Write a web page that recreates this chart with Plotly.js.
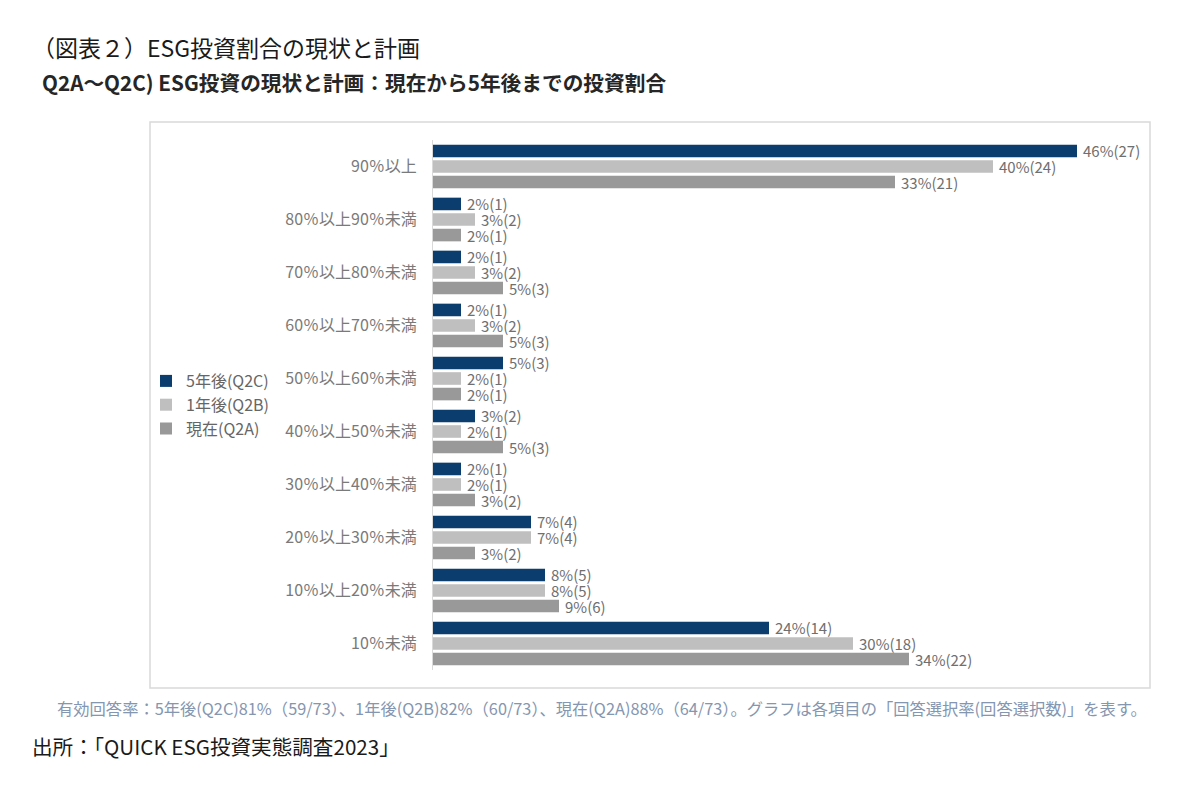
<!DOCTYPE html>
<html>
<head>
<meta charset="utf-8">
<script src="https://cdn.plot.ly/plotly-3.0.1.min.js"></script>
<style>html,body{margin:0;padding:0;background:#fff;}#chart{width:1199px;height:791px;}</style>
</head>
<body>
<div id="chart"></div>
<script>
const categories = ["90％以上","80％以上90％未満","70％以上80％未満","60％以上70％未満","50％以上60％未満","40％以上50％未満","30％以上40％未満","20％以上30％未満","10％以上20％未満","10％未満"];
const seriesNames = ["5年後(Q2C)","1年後(Q2B)","現在(Q2A)"];
const pct5y = [46,2,2,2,5,3,2,7,8,24];
const cnt5y = [27,1,1,1,3,2,1,4,5,14];
const pct1y = [40,3,3,3,2,2,2,7,8,30];
const cnt1y = [24,2,2,2,1,1,1,4,5,18];
const pctNow = [33,2,5,5,2,5,3,3,9,34];
const cntNow = [21,1,3,3,1,3,2,2,6,22];
const colors = ["#0b3d6e","#bfbfbf","#999999"];

const font = "'Noto Sans CJK JP', 'Noto Sans', sans-serif";
const pctSets = [pct5y, pct1y, pctNow];
const cntSets = [cnt5y, cnt1y, cntNow];

const traces = seriesNames.map((name, i) => ({
  type: 'bar',
  orientation: 'h',
  name: name,
  y: categories,
  x: pctSets[i],
  text: pctSets[i].map((p, k) => '\u2009' + p + '%(' + cntSets[i][k] + ')'),
  textposition: 'outside',
  constraintext: 'none',
  cliponaxis: false,
  textfont: {family: font, size: 15, color: '#6f6f6f'},
  marker: {color: colors[i], line: {width: 0}},
  hoverinfo: 'skip'
}));

// plot area pixel geometry
const L = 433, R = 1133, T = 140, B = 670;
const px = x => (x - L) / (R - L);
const py = y => (B - y) / (B - T);

const layout = {
  width: 1199, height: 791,
  margin: {l: L, r: 1199 - R, t: T, b: 791 - B},
  paper_bgcolor: '#ffffff', plot_bgcolor: '#ffffff',
  barmode: 'group', bargap: 0.12, bargroupgap: 0.19,
  showlegend: true,
  legend: {
    x: px(146), y: py(364), xref: 'paper', yref: 'paper', xanchor: 'left', yanchor: 'top',
    font: {family: font, size: 16, color: '#666666'},
    itemwidth: 30, tracegroupgap: 0, bgcolor: 'rgba(0,0,0,0)'
  },
  xaxis: {range: [0, 50], showgrid: false, zeroline: false, showticklabels: false, showline: false, fixedrange: true},
  yaxis: {
    autorange: 'reversed', showgrid: false, zeroline: false,
    showline: true, linecolor: '#d9d9d9', linewidth: 1,
    ticks: 'outside', ticklen: 12, tickcolor: 'rgba(0,0,0,0)',
    tickfont: {family: font, size: 16, color: '#7a7a7a'}
  },
  shapes: [{
    type: 'rect', xref: 'paper', yref: 'paper',
    x0: px(150), x1: px(1150), y0: py(688), y1: py(122),
    line: {color: '#d9d9d9', width: 1.5}, fillcolor: 'rgba(0,0,0,0)', layer: 'below'
  }],
  annotations: [
    {text: '（図表２）ESG投資割合の現状と計画', xref: 'paper', yref: 'paper', x: px(30), y: py(47), xanchor: 'left', yanchor: 'middle', showarrow: false, font: {family: font, size: 23, color: '#1a1a1a'}},
    {text: '<b>Q2A～Q2C) ESG投資の現状と計画：現在から5年後までの投資割合</b>', xref: 'paper', yref: 'paper', x: px(40), y: py(82), xanchor: 'left', yanchor: 'middle', showarrow: false, font: {family: font, size: 20.7, color: '#262626'}},
    {text: '有効回答率：5年後(Q2C)81%（59/73）、1年後(Q2B)82%（60/73）、現在(Q2A)88%（64/73）。グラフは各項目の「回答選択率(回答選択数)」を表す。', xref: 'paper', yref: 'paper', x: px(55), y: py(708), xanchor: 'left', yanchor: 'middle', showarrow: false, font: {family: font, size: 16.3, color: '#8496b0'}},
    {text: '出所：「QUICK ESG投資実態調査2023」', xref: 'paper', yref: 'paper', x: px(30), y: py(746), xanchor: 'left', yanchor: 'middle', showarrow: false, font: {family: font, size: 20.6, color: '#1a1a1a'}}
  ]
};

Plotly.newPlot('chart', traces, layout, {displayModeBar: false, staticPlot: true});
</script>
</body>
</html>
